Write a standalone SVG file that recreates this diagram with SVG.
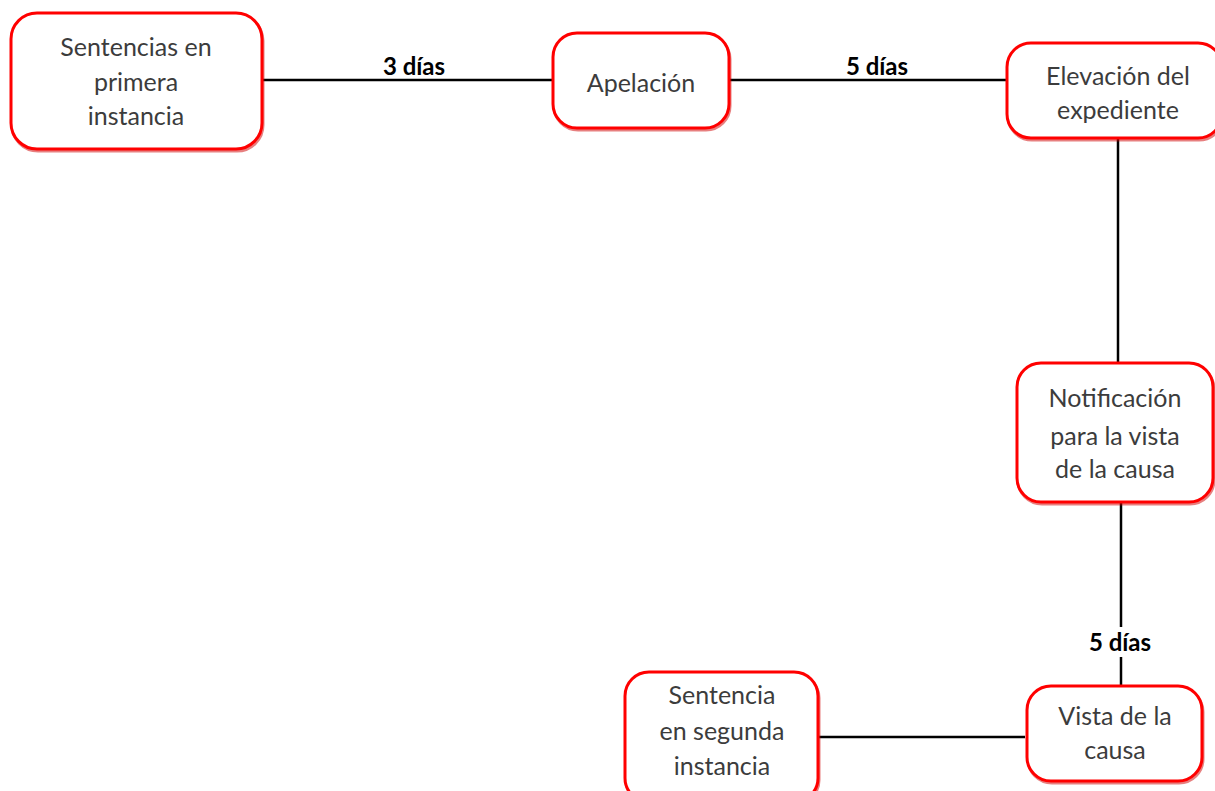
<svg xmlns="http://www.w3.org/2000/svg" width="1215" height="791" viewBox="0 0 1215 791">
<style>
.box{fill:#ffffff;stroke:#ff0000;stroke-width:3}
.sh{fill:none;stroke:#d00000;stroke-width:3;opacity:0.5}
.t{font-family:Lato,"Open Sans",sans-serif;font-size:25px;fill:#3c3c3c;text-anchor:middle}
.lbl{font-family:Lato,"Open Sans",sans-serif;font-size:24px;font-weight:bold;fill:#000000;text-anchor:middle}
.c{stroke:#000000;stroke-width:2.5;fill:none}
</style>
<rect width="1215" height="791" fill="#ffffff"/>
<g id="connectors">
<line class="c" x1="262" y1="80" x2="553" y2="80"/>
<line class="c" x1="729" y1="80" x2="1007" y2="80"/>
<line class="c" x1="1118" y1="139" x2="1118" y2="363"/>
<line class="c" x1="1121" y1="503" x2="1121" y2="686"/>
<line class="c" x1="818" y1="737" x2="1025" y2="737"/>
<rect x="1083" y="627" width="76" height="30" fill="#ffffff"/>
<text class="lbl" x="414" y="75">3 días</text>
<text class="lbl" x="877" y="75">5 días</text>
<text class="lbl" x="1120" y="651">5 días</text>
</g>
<g id="n1">
<rect class="sh" x="12" y="15" width="251" height="136" rx="26"/>
<rect class="box" x="11" y="13" width="251" height="136" rx="26"/>
<text class="t" x="136" y="56">Sentencias en</text>
<text class="t" x="136" y="91">primera</text>
<text class="t" x="136" y="125">instancia</text>
</g>
<g id="n2">
<rect class="sh" x="554" y="35" width="176" height="95" rx="24"/>
<rect class="box" x="553" y="33" width="176" height="95" rx="24"/>
<text class="t" x="641" y="92">Apelación</text>
</g>
<g id="n3">
<rect class="sh" x="1008" y="45" width="215" height="95" rx="24"/>
<rect class="box" x="1007" y="43" width="215" height="95" rx="24"/>
<text class="t" x="1118" y="85">Elevación del</text>
<text class="t" x="1118" y="119">expediente</text>
</g>
<g id="n4">
<rect class="sh" x="1018" y="365" width="196" height="139" rx="24"/>
<rect class="box" x="1017" y="363" width="196" height="139" rx="24"/>
<text class="t" x="1115" y="407">Notificación</text>
<text class="t" x="1115" y="445">para la vista</text>
<text class="t" x="1115" y="478">de la causa</text>
</g>
<g id="n5">
<rect class="sh" x="626" y="674" width="193" height="130" rx="24"/>
<rect class="box" x="625" y="672" width="193" height="130" rx="24"/>
<text class="t" x="722" y="704">Sentencia</text>
<text class="t" x="722" y="740">en segunda</text>
<text class="t" x="722" y="775">instancia</text>
</g>
<g id="n6">
<rect class="sh" x="1028" y="688" width="175" height="95" rx="24"/>
<rect class="box" x="1027" y="686" width="175" height="95" rx="24"/>
<text class="t" x="1115" y="725">Vista de la</text>
<text class="t" x="1115" y="759">causa</text>
</g>
</svg>
